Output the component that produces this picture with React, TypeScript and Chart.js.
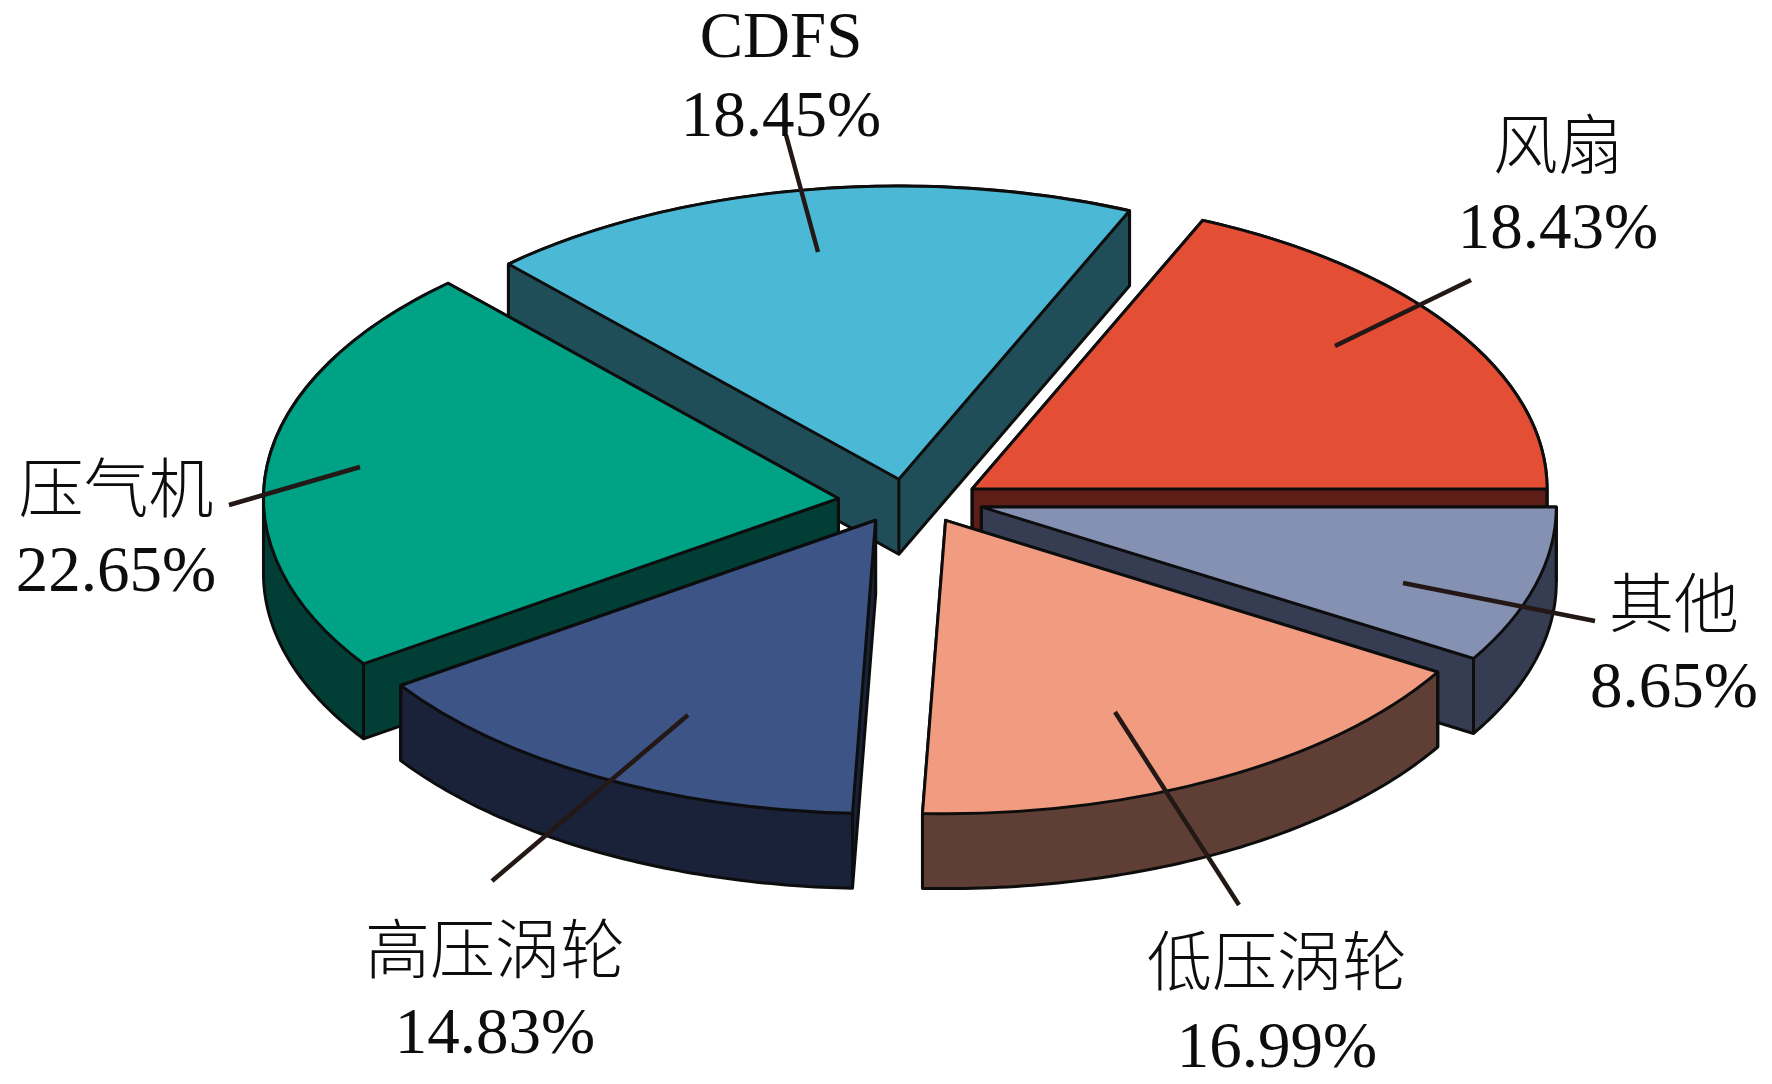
import React, { useEffect, useRef } from 'react';
import { Chart, registerables } from 'chart.js';

Chart.register(...registerables);

// ---- data (clockwise from the 3 o'clock direction) ----
const CATEGORIES = ['其他', '低压涡轮', '高压涡轮', '压气机', 'CDFS', '风扇'];
const SHARES = [8.65, 16.99, 14.83, 22.65, 18.45, 18.43];

// ---- styles ----
const TOP_COLORS = ['#8591B3', '#F19C80', '#3D5487', '#00A286', '#4BB9D5', '#E34E35'];
const SIDE_COLORS = ['#363D52', '#5F3F35', '#1A2239', '#013E35', '#1F4D58', '#5D1E17'];
const EDGE = '#0d0d0d';
const LEADER = '#231815';

// ---- 3D look ----
const RADIUS = 575;
const TILT = 0.51;
const DEPTH = 75;
const EXPLODE_X = 73;
const EXPLODE_Y = 22;

// ---- label layout (leader line inner -> outer, text centre, two baselines) ----
const LABEL_LAYOUT = [
  { line: [1403, 583, 1595, 621], cx: 1674, b1: 627, b2: 707 },
  { line: [1115, 712, 1239, 905], cx: 1277, b1: 985, b2: 1067 },
  { line: [688, 715, 492, 881], cx: 495, b1: 973, b2: 1053 },
  { line: [360, 467, 229, 505], cx: 116, b1: 512, b2: 591 },
  { line: [818, 252, 786, 135], cx: 781, b1: 57, b2: 136 },
  { line: [1335, 346, 1471, 280], cx: 1558, b1: 168, b2: 248 },
];
const NAME_FONT = '300 65px "Liberation Serif", "Noto Sans CJK SC", serif';
const VALUE_FONT = '65px "Liberation Serif", serif';

type P = [number, number];

function convexHull(points: P[]): P[] {
  const pts = points.slice().sort((a, b) => (a[0] - b[0]) || (a[1] - b[1]));
  const cross = (o: P, a: P, b: P) => (a[0] - o[0]) * (b[1] - o[1]) - (a[1] - o[1]) * (b[0] - o[0]);
  const lower: P[] = [];
  for (const p of pts) {
    while (lower.length >= 2 && cross(lower[lower.length - 2], lower[lower.length - 1], p) <= 0) lower.pop();
    lower.push(p);
  }
  const upper: P[] = [];
  for (let i = pts.length - 1; i >= 0; i--) {
    const p = pts[i];
    while (upper.length >= 2 && cross(upper[upper.length - 2], upper[upper.length - 1], p) <= 0) upper.pop();
    upper.push(p);
  }
  upper.pop();
  lower.pop();
  return lower.concat(upper);
}

const pie3d = {
  id: 'pie3d',
  beforeDatasetsDraw(chart: any) {
    const ctx: CanvasRenderingContext2D = chart.ctx;
    const arcs: any[] = chart.getDatasetMeta(0).data;
    const mid = (a: any) => (a.startAngle + a.endAngle) / 2;
    const order = arcs.map((_, i) => i).sort((a, b) => Math.sin(mid(arcs[a])) - Math.sin(mid(arcs[b])));
    const N = 72;
    for (const i of order) {
      const arc = arcs[i];
      const { x, y, startAngle, endAngle, outerRadius } = arc;
      const h = mid(arc);
      const dx = EXPLODE_X * Math.cos(h);
      const dy = EXPLODE_Y * Math.sin(h);
      const ax = x + dx;
      const ay = y + dy;
      const top: P[] = [[ax, ay]];
      for (let j = 0; j <= N; j++) {
        const t = startAngle + ((endAngle - startAngle) * j) / N;
        top.push([ax + outerRadius * Math.cos(t), ay + TILT * outerRadius * Math.sin(t)]);
      }
      const bottom: P[] = top.map(([px, py]) => [px, py + DEPTH] as P);
      const hull = convexHull(top.concat(bottom));

      ctx.save();
      ctx.lineJoin = 'round';
      ctx.lineWidth = 3;
      ctx.strokeStyle = EDGE;
      // side walls
      ctx.beginPath();
      hull.forEach(([px, py], j) => (j ? ctx.lineTo(px, py) : ctx.moveTo(px, py)));
      ctx.closePath();
      ctx.fillStyle = SIDE_COLORS[i];
      ctx.fill();
      ctx.stroke();
      // vertical edges
      ctx.beginPath();
      [top[0], top[1], top[top.length - 1]].forEach(([px, py]) => {
        ctx.moveTo(px, py);
        ctx.lineTo(px, py + DEPTH);
      });
      ctx.stroke();
      // top face drawn by chart.js arc element, squashed into an ellipse
      ctx.save();
      ctx.translate(dx, dy);
      ctx.translate(x, y);
      ctx.scale(1, TILT);
      ctx.translate(-x, -y);
      arc.draw(ctx);
      ctx.restore();
      // outline of top face
      ctx.beginPath();
      ctx.moveTo(ax, ay);
      ctx.ellipse(ax, ay, outerRadius, TILT * outerRadius, 0, startAngle, endAngle);
      ctx.closePath();
      ctx.stroke();
      ctx.restore();
    }
    return false;
  },
  afterDraw(chart: any) {
    const ctx: CanvasRenderingContext2D = chart.ctx;
    const labels: string[] = chart.data.labels;
    const values: number[] = chart.data.datasets[0].data;
    ctx.save();
    LABEL_LAYOUT.forEach((lay, i) => {
      const [x1, y1, x2, y2] = lay.line;
      ctx.beginPath();
      ctx.moveTo(x1, y1);
      ctx.lineTo(x2, y2);
      ctx.lineWidth = 4.5;
      ctx.strokeStyle = LEADER;
      ctx.stroke();
      ctx.fillStyle = '#0d0d0d';
      ctx.textAlign = 'center';
      ctx.textBaseline = 'alphabetic';
      ctx.font = NAME_FONT;
      ctx.fillText(labels[i], lay.cx, lay.b1);
      ctx.font = VALUE_FONT;
      ctx.fillText(values[i].toFixed(2) + '%', lay.cx, lay.b2);
    });
    ctx.restore();
  },
};

export default function App() {
  const ref = useRef<HTMLCanvasElement | null>(null);
  useEffect(() => {
    if (!ref.current) return;
    const chart = new Chart(ref.current, {
      type: 'pie',
      data: {
        labels: CATEGORIES,
        datasets: [
          {
            data: SHARES,
            backgroundColor: TOP_COLORS,
            borderWidth: 0,
            offset: 0,
            radius: RADIUS,
            rotation: 90,
            clip: false as any,
          } as any,
        ],
      },
      options: {
        responsive: false,
        maintainAspectRatio: false,
        animation: false,
        events: [],
        rotation: 90,
        radius: RADIUS,
        layout: { padding: { left: 50, right: 0, top: 0, bottom: 82 } },
        plugins: { legend: { display: false }, tooltip: { enabled: false } },
      } as any,
      plugins: [pie3d],
    });
    return () => chart.destroy();
  }, []);
  return (
    <div style={{ position: 'fixed', left: 0, top: 0, width: 1772, height: 1084, background: '#ffffff' }}>
      <canvas ref={ref} width={1772} height={1084} style={{ display: 'block', width: 1772, height: 1084 }} />
    </div>
  );
}
